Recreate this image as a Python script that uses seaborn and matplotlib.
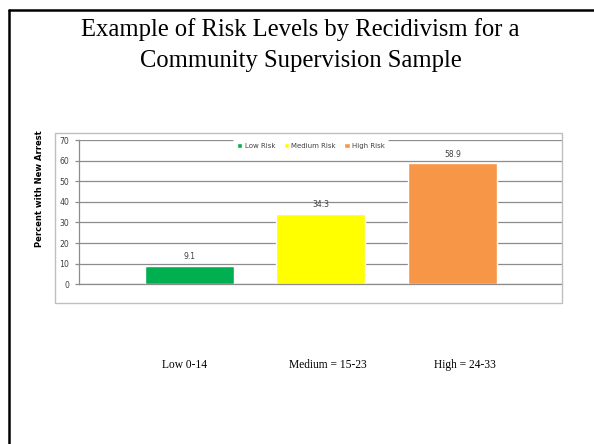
import matplotlib
matplotlib.use("Agg")
import matplotlib.pyplot as plt
from matplotlib.lines import Line2D
from matplotlib.patches import Rectangle
import seaborn as sns
import pandas as pd

# Recidivism rates by risk level
risk_levels = ["Low Risk", "Medium Risk", "High Risk"]
pct_new_arrest = [9.1, 34.3, 58.9]
bar_colors = ["#00B050", "#FFFF00", "#F79646"]
score_ranges = ["Low 0-14", "Medium = 15-23", "High = 24-33"]
title_lines = ["Example of Risk Levels by Recidivism for a",
               "Community Supervision Sample"]
y_ticks = [0, 10, 20, 30, 40, 50, 60, 70]

df = pd.DataFrame({"risk": risk_levels, "pct": pct_new_arrest})

sns.set_theme(style="white")
plt.rcParams["font.family"] = ["DejaVu Sans"]

W, H = 594, 444
fig = plt.figure(figsize=(W / 100, H / 100), dpi=100)
fig.patch.set_facecolor("white")


def fx(px):
    return px / W


def fy(py):
    return 1 - py / H


# slide frame (left and top edges)
fig.add_artist(Line2D([fx(8.5), fx(8.5)], [fy(10.5), fy(444)], color="black",
                      lw=1.8, transform=fig.transFigure))
fig.add_artist(Line2D([fx(8.5), fx(594)], [fy(10.5), fy(10.5)], color="black",
                      lw=1.8, transform=fig.transFigure))

# slide title
serif = "Liberation Serif"
fig.text(fx(300), fy(36), title_lines[0], ha="center", va="baseline",
         fontsize=17.7, family=serif, color="black")
fig.text(fx(301), fy(67.5), title_lines[1], ha="center", va="baseline",
         fontsize=17.7, family=serif, color="black")

# chart frame
fig.add_artist(Rectangle((fx(54.5), fy(303)), fx(562) - fx(54.5), fy(133) - fy(303),
                         transform=fig.transFigure, fill=False,
                         edgecolor="#BFBFBF", lw=1.0))

ax = fig.add_axes([fx(79), fy(284.3), fx(562) - fx(79), fy(140) - fy(284.3)])
ax.set_facecolor("none")

sns.barplot(data=df, x="risk", y="pct", hue="risk", palette=bar_colors,
            order=risk_levels, hue_order=risk_levels, width=0.675,
            dodge=False, legend=True, ax=ax, saturation=1, zorder=3)

ax.set_ylim(0, 70)
ax.set_xlim(-0.835, 2.83)
ax.set_yticks(y_ticks)
ax.set_yticklabels([str(t) for t in y_ticks], fontsize=5.6, color="#404040")
ax.set_xticks([])
ax.set_xlabel("")
ax.set_ylabel("")
ax.yaxis.grid(True, color="#8C8C8C", lw=0.9, zorder=0)
ax.tick_params(axis="y", length=3, width=0.9, color="#8C8C8C", pad=4, left=True)
for side in ["top", "right"]:
    ax.spines[side].set_visible(False)
for side in ["left", "bottom"]:
    ax.spines[side].set_color("#8C8C8C")
    ax.spines[side].set_linewidth(0.9)
    ax.spines[side].set_zorder(4)

for cont in ax.containers:
    ax.bar_label(cont, fmt="%.1f", padding=3, fontsize=5.5, color="#404040")

leg = ax.legend(loc="center", bbox_to_anchor=(fx(311), fy(146)),
                bbox_transform=fig.transFigure, ncol=3, fontsize=5.0,
                frameon=True, handlelength=0.75, handleheight=0.75,
                handletextpad=0.4, columnspacing=1.2, borderpad=0.5,
                labelcolor="#404040")
leg.get_frame().set_facecolor("white")
leg.get_frame().set_edgecolor("none")
leg.get_frame().set_alpha(1)
leg.set_zorder(5)

fig.text(fx(40), fy(189), "Percent with New Arrest", rotation=90,
         ha="center", va="center", fontsize=6.0, fontweight="bold",
         color="black")

# score ranges under the chart
range_x = [185, 328, 465]
for xpos, lab in zip(range_x, score_ranges):
    fig.text(fx(xpos), fy(368), lab, ha="center", va="baseline",
             fontsize=8.3, family=serif, color="black")

fig.savefig("out.png", dpi=100)
